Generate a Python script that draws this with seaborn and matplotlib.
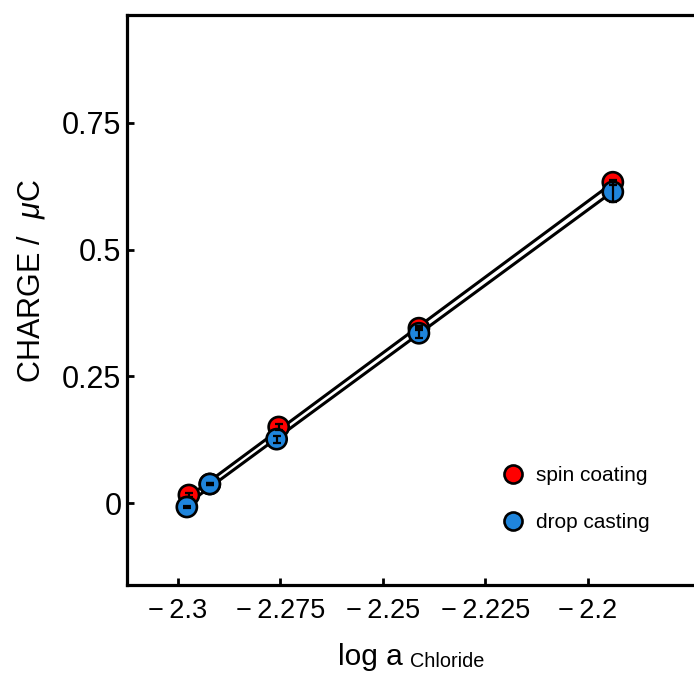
import matplotlib
matplotlib.use("Agg")
import matplotlib.pyplot as plt
import seaborn as sns
import numpy as np
import pandas as pd
from matplotlib.lines import Line2D

# ---- data ----
log_a_spin = [-2.2973, -2.2922, -2.2754, -2.2412, -2.1939]
charge_spin = [0.0158, 0.0375, 0.150, 0.345, 0.633]
err_spin = [0.003, 0.002, 0.006, 0.004, 0.005]

log_a_drop = [-2.2978, -2.2922, -2.2759, -2.2412, -2.1939]
charge_drop = [-0.0079, 0.0375, 0.126, 0.335, 0.614]
err_drop = [0.002, 0.002, 0.007, 0.010, 0.020]

series_names = ["spin coating", "drop casting"]
series_colors = ["#ff0000", "#1f85dc"]

x_ticks = [-2.3, -2.275, -2.25, -2.225, -2.2]
x_tick_labels = ["\u2212\u20092.3", "\u2212\u20092.275", "\u2212\u20092.25",
                 "\u2212\u20092.225", "\u2212\u20092.2"]
y_ticks = [0, 0.25, 0.5, 0.75]
y_tick_labels = ["0", "0.25", "0.5", "0.75"]

df = pd.DataFrame({
    "x": log_a_spin + log_a_drop,
    "y": charge_spin + charge_drop,
    "err": err_spin + err_drop,
    "series": [series_names[0]] * len(log_a_spin) + [series_names[1]] * len(log_a_drop),
})

sns.set_style("ticks")
plt.rcParams["font.family"] = ["Liberation Sans", "DejaVu Sans"]
plt.rcParams["mathtext.fontset"] = "custom"
plt.rcParams["mathtext.it"] = "Liberation Sans:italic"
plt.rcParams["mathtext.rm"] = "Liberation Sans"
plt.rcParams["text.color"] = "black"
plt.rcParams["axes.labelcolor"] = "black"

fig = plt.figure(figsize=(6.94, 6.77), dpi=100)
ax = fig.add_axes([127 / 694, 92 / 677, (694 - 127) / 694, (585 - 15) / 677])

# fit lines
for name in series_names:
    sub = df[df.series == name]
    sns.regplot(data=sub, x="x", y="y", scatter=False, ci=None, ax=ax,
                line_kws=dict(color="black", lw=2.2, zorder=1), truncate=True)

# markers
sns.scatterplot(data=df, x="x", y="y", hue="series", hue_order=series_names,
                palette=series_colors, s=210, edgecolor="black", linewidth=1.9,
                ax=ax, zorder=3, legend=False)

# error bars
for name in series_names:
    sub = df[df.series == name]
    ax.errorbar(sub.x, sub.y, yerr=sub.err, fmt="none", ecolor="black",
                elinewidth=1.6, capsize=2.8, capthick=1.6, zorder=4)

ax.set_xlim(-2.3124, -2.1741)
ax.set_ylim(-0.1618, 0.963)
ax.set_xticks(x_ticks)
ax.set_xticklabels(x_tick_labels)
ax.set_yticks(y_ticks)
ax.set_yticklabels(y_tick_labels)
ax.tick_params(axis="both", direction="in", length=5, width=2, colors="black")
ax.tick_params(axis="x", pad=9, labelsize=19.5)
ax.tick_params(axis="y", pad=4, labelsize=22)

for side in ["left", "bottom", "top"]:
    ax.spines[side].set_linewidth(2.3)
    ax.spines[side].set_color("black")
ax.spines["right"].set_visible(False)

ax.set_xlabel("log a", fontsize=21.5)
ax.xaxis.set_label_coords((370.5 - 127) / 567, -0.102)
ax.annotate("Chloride", xy=(1, 0), xycoords=ax.xaxis.label, xytext=(7, 0),
            textcoords="offset pixels", ha="left", va="bottom", fontsize=14.3,
            color="black")

ax.set_ylabel("CHARGE /  $\\mu$C", fontsize=22)
ax.yaxis.set_label_coords((47 - 127) / 567, (585 - 281) / 570)

# legend
handles = [Line2D([], [], linestyle="none", marker="o", markersize=13,
                  markerfacecolor=c, markeredgecolor="black", markeredgewidth=1.9)
           for c in series_colors]
ax.legend(handles, series_names, loc="center left", frameon=False, fontsize=15,
          bbox_to_anchor=(0.63, 0.151), handletextpad=0.6, labelspacing=1.35,
          handlelength=1.0, labelcolor="black")

fig.savefig("out.png", dpi=100)
